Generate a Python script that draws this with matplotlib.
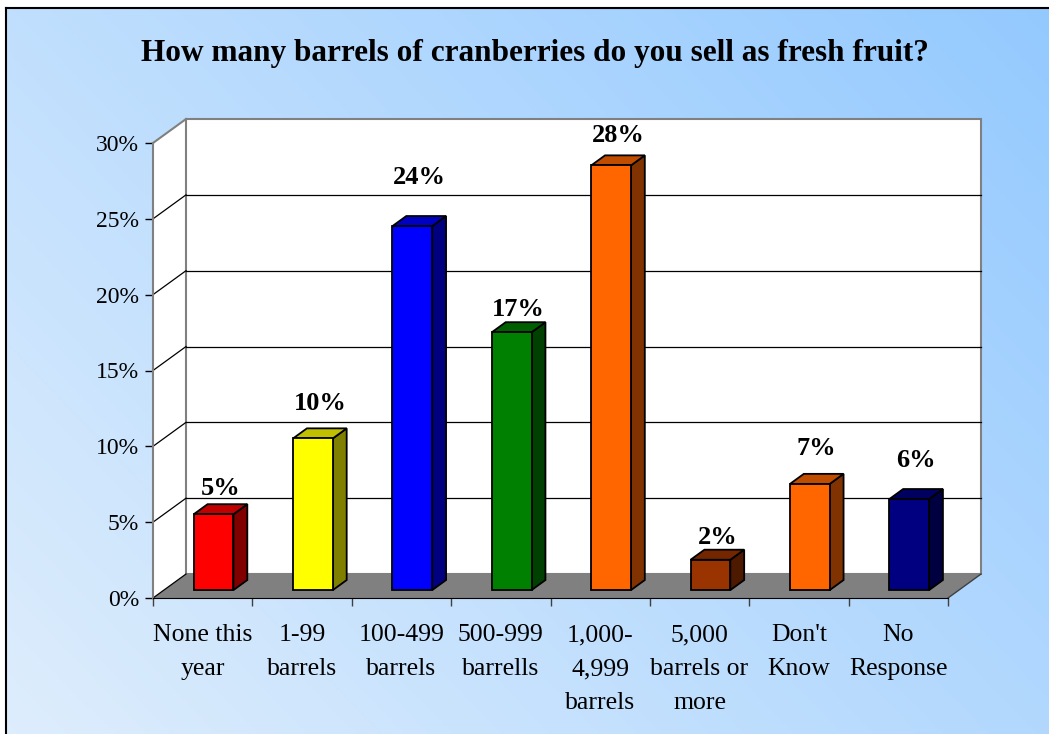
import numpy as np
import matplotlib
matplotlib.use("Agg")
import matplotlib.pyplot as plt
from matplotlib.patches import Polygon

plt.rcParams['font.family'] = ['Liberation Serif', 'DejaVu Serif']

# dados
title = "How many barrels of cranberries do you sell as fresh fruit?"
categories = ["None this\nyear", "1-99\nbarrels", "100-499\nbarrels", "500-999\nbarrells",
              "1,000-\n4,999\nbarrels", "5,000\nbarrels or\nmore", "Don't\nKnow", "No\nResponse"]
values = [5, 10, 24, 17, 28, 2, 7, 6]
yticks = [0, 5, 10, 15, 20, 25, 30]

# cores: frente, lado, topo
front_colors = ["#FF0000", "#FFFF00", "#0000FF", "#008000", "#FF6600", "#993300", "#FF6600", "#000080"]
side_colors = ["#800000", "#808000", "#000080", "#004000", "#803300", "#4D1A00", "#803300", "#000040"]
top_colors = ["#C00000", "#C0C000", "#0000C0", "#006000", "#C04C00", "#732600", "#C04C00", "#000060"]

# deslocamento vertical dos rotulos (pontos) acima do topo das barras
label_nudge = [6.5, 13.5, 23, 4.3, 9.4, 4.3, 13.7, 15.8]

W, H = 1049, 734
fig = plt.figure(figsize=(W / 100, H / 100), dpi=100)

# fundo em degrade
bg = fig.add_axes([6 / W, 0, 1 - 6 / W, 1 - 8 / H])
xx, yy = np.meshgrid(np.linspace(0, 1, 300), np.linspace(0, 1, 200))
t = (xx * 0.6 + yy * 0.4)[..., None]
light = np.array([0.87, 0.93, 0.99])
dark = np.array([0.58, 0.79, 1.0])
bg.imshow(light * (1 - t) + dark * t, extent=[0, 1, 0, 1], aspect='auto', origin='lower')
bg.set_xticks([])
bg.set_yticks([])
for s in ['right', 'bottom']:
    bg.spines[s].set_visible(False)
for s in ['left', 'top']:
    bg.spines[s].set_linewidth(1.5)

fig.text(0.51, 0.927, title, ha='center', va='center', fontsize=22.5, fontweight='bold')

ax = fig.add_axes([153 / W, (H - 598) / H, 795 / W, 455 / H])
ax.patch.set_visible(False)
ax.set_xlim(0, 8)
ax.set_ylim(0, 30)

n = len(values)
DX, DY = 0.332, 1.58  # profundidade do "3D"
f0, f1 = 0.33, 0.75   # posicao das barras na profundidade
top = yticks[-1]

# paredes e piso
ax.add_patch(Polygon([(0, 0), (DX, DY), (DX, top + DY), (0, top)], closed=True,
                     facecolor='white', edgecolor='none', zorder=1, clip_on=False))
ax.add_patch(Polygon([(DX, DY), (n + DX, DY), (n + DX, top + DY), (DX, top + DY)], closed=True,
                     facecolor='white', edgecolor='#808080', linewidth=1.5, zorder=1, clip_on=False))
ax.add_patch(Polygon([(0, 0), (n, 0), (n + DX, DY), (DX, DY)], closed=True,
                     facecolor='#808080', edgecolor='none', zorder=2, clip_on=False))
for v in yticks[:-1]:
    ax.plot([0, DX], [v, v + DY], color='black', lw=0.9, zorder=3, clip_on=False)
    if v > 0:
        ax.plot([DX, n + DX], [v + DY, v + DY], color='black', lw=0.9, zorder=2, clip_on=False)
ax.plot([0, DX], [top, top + DY], color='#808080', lw=1.5, zorder=3, clip_on=False)
ax.plot([n, n + DX], [0, DY], color='#404040', lw=1, zorder=3, clip_on=False)

# barras
bw = 0.4
xc = np.arange(n) + 0.5 + DX * f0
base = DY * f0
ddx, ddy = DX * (f1 - f0), DY * (f1 - f0)
ax.bar(xc, values, width=bw, bottom=base, color=front_colors, edgecolor='black',
       linewidth=1.3, zorder=6, clip_on=False)
for i, v in enumerate(values):
    xr, xl = xc[i] + bw / 2, xc[i] - bw / 2
    yt = base + v
    ax.add_patch(Polygon([(xr, base), (xr + ddx, base + ddy), (xr + ddx, yt + ddy), (xr, yt)],
                         closed=True, facecolor=side_colors[i], edgecolor='black',
                         linewidth=1.3, zorder=5, clip_on=False))
    ax.add_patch(Polygon([(xl, yt), (xr, yt), (xr + ddx, yt + ddy), (xl + ddx, yt + ddy)],
                         closed=True, facecolor=top_colors[i], edgecolor='black',
                         linewidth=1.3, zorder=5, clip_on=False))
    ax.annotate(f"{v}%", (xc[i] + ddx / 2, yt + ddy), xytext=(0, label_nudge[i]),
                textcoords='offset points', ha='center', va='baseline',
                fontsize=19, fontweight='bold', zorder=7, annotation_clip=False)

# eixos
ax.spines['top'].set_visible(False)
ax.spines['right'].set_visible(False)
ax.spines['left'].set_color('#808080')
ax.spines['left'].set_linewidth(1.5)
ax.spines['left'].set_zorder(4)
ax.spines['bottom'].set_color('black')
ax.spines['bottom'].set_zorder(4)
ax.set_yticks(yticks)
ax.set_yticklabels([f"{v}%" for v in yticks], fontsize=17)
ax.tick_params(axis='y', length=6, width=1, color='black', pad=4)
ax.set_xticks(range(n + 1))
ax.set_xticklabels([])
ax.tick_params(axis='x', which='major', length=6, width=1, color='#404040')
ax.set_xticks(np.arange(n) + 0.5, minor=True)
ax.set_xticklabels(categories, minor=True, fontsize=18.5, linespacing=1.7)
ax.tick_params(axis='x', which='minor', length=0, pad=19)

fig.savefig("out.png", dpi=100)
